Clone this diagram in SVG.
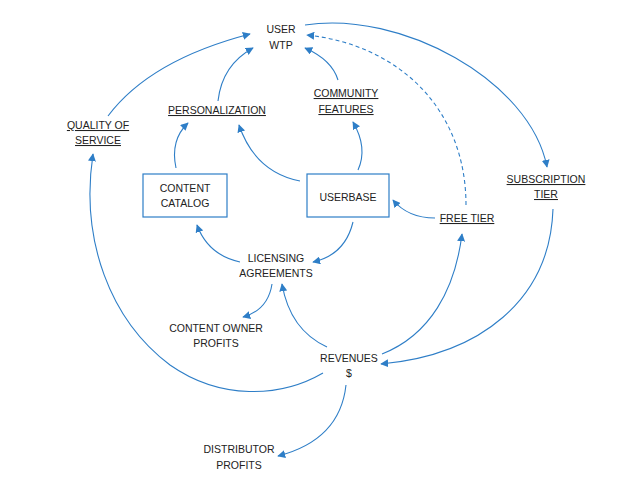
<svg xmlns="http://www.w3.org/2000/svg" width="635" height="481" viewBox="0 0 635 481">
<style>
text{font-family:"Liberation Sans",Arial,sans-serif;font-size:10.5px;fill:#222;text-anchor:middle}
.u{text-decoration:underline}
.c{fill:none;stroke:#2E7EC7;stroke-width:1.1;marker-end:url(#ah)}
.d{stroke-dasharray:4 3}
.box{fill:#fff;stroke:#2E7EC7;stroke-width:1.2}
</style>
<defs>
<marker id="ah" viewBox="0 0 10 10" refX="9" refY="5" markerWidth="8" markerHeight="8" markerUnits="userSpaceOnUse" orient="auto">
<path d="M0,0 L10,5 L0,10 Z" fill="#2E7EC7"/>
</marker>
</defs>
<rect width="635" height="481" fill="#fff"/>
<g id="connectors">
<path class="c" d="M108,116 Q150,60 250,34"/>
<path class="c" d="M218,101 Q222,65 253,48"/>
<path class="c" d="M338,80 Q332,60 305,48"/>
<path class="c" d="M305,25 C400,10 530,80 547,167"/>
<path class="c d" d="M466,205 C466,110 400,45 307,35"/>
<path class="c" d="M358,170 Q368,148 353,122"/>
<path class="c" d="M300,181 Q255,172 239,125"/>
<path class="c" d="M176,168 Q170,140 188,123"/>
<path class="c" d="M435,218 Q408,218 393,200"/>
<path class="c" d="M353,222 Q345,255 313,262"/>
<path class="c" d="M240,262 Q208,255 197,225"/>
<path class="c" d="M272,284 Q268,310 243,317"/>
<path class="c" d="M327,347 Q290,330 282,284"/>
<path class="c" d="M382,354 C430,335 455,290 462,234"/>
<path class="c" d="M553,209 C550,300 480,355 381,364"/>
<path class="c" d="M323,373 C280,398 220,400 170,365 C110,320 80,240 93,154"/>
<path class="c" d="M346,385 Q340,440 278,456"/>
</g>
<g id="user-wtp"><text x="281" y="33">USER</text><text x="281" y="49">WTP</text></g>
<g id="personalization"><text class="u" x="217" y="114">PERSONALIZATION</text></g>
<g id="quality-of-service"><text class="u" x="98" y="129">QUALITY OF</text><text class="u" x="98" y="144">SERVICE</text></g>
<g id="community-features"><text class="u" x="346" y="97">COMMUNITY</text><text class="u" x="346" y="113">FEATURES</text></g>
<g id="subscription-tier"><text class="u" x="546" y="183">SUBSCRIPTION</text><text class="u" x="546" y="198">TIER</text></g>
<g id="free-tier"><text class="u" x="467" y="222">FREE TIER</text></g>
<g id="userbase"><rect class="box" x="307" y="174" width="82" height="43"/><text x="348" y="201">USERBASE</text></g>
<g id="content-catalog"><rect class="box" x="143" y="174" width="84" height="43"/><text x="185" y="192">CONTENT</text><text x="185" y="207">CATALOG</text></g>
<g id="licensing-agreements"><text x="276" y="262">LICENSING</text><text x="276" y="277">AGREEMENTS</text></g>
<g id="content-owner-profits"><text x="216" y="332">CONTENT OWNER</text><text x="216" y="347">PROFITS</text></g>
<g id="revenues"><text x="349" y="362">REVENUES</text><text x="349" y="377">$</text></g>
<g id="distributor-profits"><text x="239" y="453">DISTRIBUTOR</text><text x="239" y="469">PROFITS</text></g>
</svg>
